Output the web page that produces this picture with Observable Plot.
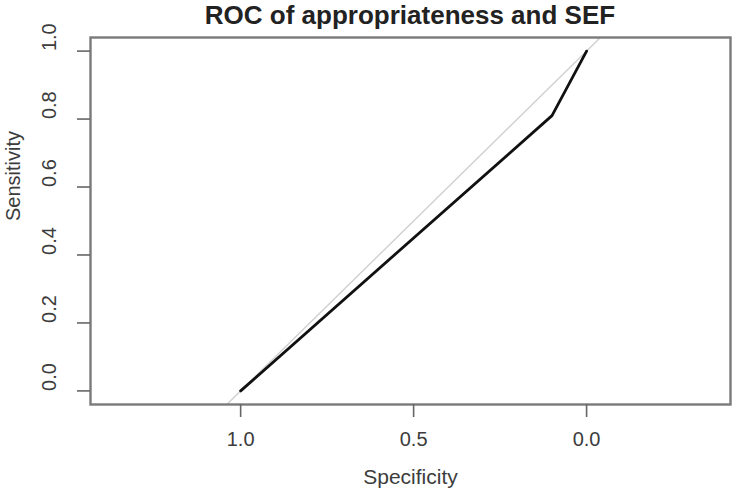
<!DOCTYPE html>
<html>
<head>
<meta charset="utf-8">
<script src="https://cdn.jsdelivr.net/npm/d3@7"></script>
<script src="https://cdn.jsdelivr.net/npm/@observablehq/plot@0.6"></script>
<style>
  html, body { margin: 0; padding: 0; background: #fff; }
  #wrap { position: relative; width: 736px; height: 496px; }
  #title { position: absolute; left: 90px; width: 640px; top: 0px; text-align: center; line-height: 25px;
    font: bold 26px "Liberation Sans", Arial, sans-serif; color: #222; white-space: nowrap; }
</style>
</head>
<body>
<div id="wrap"><div id="title"></div></div>
<script>
// ROC curve points
const specificity = [1.0, 0.10, 0.0];
const sensitivity = [0.0, 0.81, 1.0];
// identity (chance) reference line: sens = 1 - spec
const diagSpec = [1.6, -0.6];
const diagSens = diagSpec.map(s => 1 - s);
const xTicks = [1.0, 0.5, 0.0];
const yTicks = [0.0, 0.2, 0.4, 0.6, 0.8, 1.0];
const titleText = "ROC of appropriateness and SEF";
const xLabel = "Specificity";
const yLabel = "Sensitivity";

document.getElementById("title").textContent = titleText;

const roc = specificity.map((s, i) => ({spec: s, sens: sensitivity[i]}));
const diag = diagSpec.map((s, i) => ({spec: s, sens: diagSens[i]}));
const fmt = d3.format(".1f");
const font = "Liberation Sans, Arial, sans-serif";
const textColor = "#3c3c3c";

const chart = Plot.plot({
  width: 736,
  height: 496,
  marginLeft: 90,
  marginRight: 6,
  marginTop: 37,
  marginBottom: 92,
  style: {fontFamily: font, fontSize: "20px", color: textColor, background: "#fff"},
  x: {domain: [1.434, -0.416], label: null},
  y: {domain: [-0.04, 1.04], label: null},
  marks: [
    Plot.line(diag, {x: "spec", y: "sens", stroke: "#d0d0d0", strokeWidth: 1.4, clip: true}),
    Plot.line(roc, {x: "spec", y: "sens", stroke: "#111", strokeWidth: 2.8}),
    Plot.frame({stroke: "#7a7a7a", strokeWidth: 2.4}),
    Plot.axisX({ticks: xTicks, tickSize: 13, tickFormat: () => "", stroke: "#666", strokeWidth: 1.6, label: null}),
    Plot.axisY({ticks: yTicks, tickSize: 13, tickFormat: () => "", stroke: "#666", strokeWidth: 1.6, label: null}),
    Plot.text(xTicks, {x: d => d, text: d => fmt(d), frameAnchor: "bottom", dy: 41, fontSize: 20, fill: textColor}),
    Plot.text(yTicks, {y: d => d, text: d => fmt(d), frameAnchor: "left", dx: -41, rotate: -90, fontSize: 20, fill: textColor}),
    Plot.text([yLabel], {text: d => d, frameAnchor: "left", dx: -77, rotate: -90, fontSize: 20, fill: textColor}),
    Plot.text([xLabel], {text: d => d, frameAnchor: "bottom", dy: 79, fontSize: 21, fill: textColor})
  ]
});
document.getElementById("wrap").prepend(chart);
</script>
</body>
</html>
